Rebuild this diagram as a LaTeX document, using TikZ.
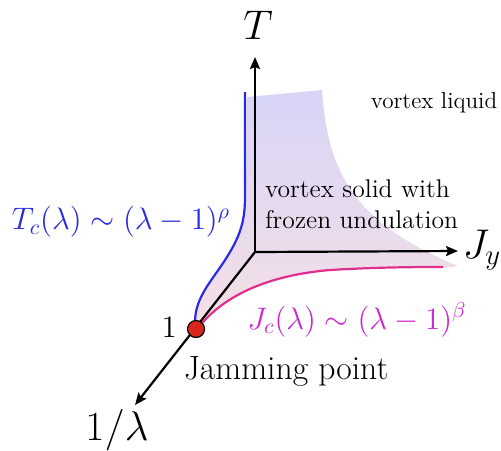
\documentclass[tikz,border=0pt]{standalone}
\usepackage{tikz}
\usetikzlibrary{arrows.meta, positioning}
\definecolor{tcblue}{HTML}{2A2AE0}
\definecolor{jcpink}{HTML}{E0308C}
\definecolor{jcmagenta}{HTML}{C82AD2}
\definecolor{solidtop}{HTML}{D8D4F7}
\definecolor{solidbot}{HTML}{F5E0E6}
\definecolor{jamred}{HTML}{D9261C}
\newcommand{\lawsize}[1]{\scalebox{1.08}{#1}}
\tikzset{
  x=0.5pt, y=-0.5pt,
  >={Stealth[length=6pt, width=5pt, inset=1pt]},
  axis/.style={->, line width=1.1pt, draw=black},
  tcline/.style={line width=1.1pt, draw=tcblue},
  jcline/.style={line width=1.1pt, draw=jcpink},
  axlbl/.style={font=\fontsize{20.7}{24}\selectfont},
  lbl/.style={font=\fontsize{12.8}{15.5}\selectfont, align=left},
  law/.style={font=\fontsize{14.4}{17}\selectfont},
}
\begin{document}
\begin{tikzpicture}
    \useasboundingbox (0,0) rectangle (501,450);
    % solid phase region
    \shade[top color=solidtop, bottom color=solidbot]
      (196,324) .. controls (195,295) and (215,278) .. (230,252)
      .. controls (243,230) and (246,215) .. (246,195) -- (247,97) -- (322,90)
      .. controls (328,180) and (360,225) .. (458,266) -- (443,268)
      .. controls (420,267) and (380,267) .. (330,270)
      .. controls (260,276) and (220,300) .. (198,328) -- cycle;
    \coordinate (O) at (255,252);
    \coordinate (Ttip) at (255,57);
    \coordinate (Jtip) at (458,251);
    \coordinate (Ltip) at (135,405);
    \node[axlbl] (T) at (258,25) {$T$};
    \node[axlbl] (Jy) at (482,250) {$J_y$};
    \node[axlbl] (lam) at (117,430) {$1/\lambda$};
    \draw[axis] (O) -- (Ttip);
    \draw[axis] (O) -- (Jtip);
    \draw[axis] (O) -- (Ltip);
    \draw[tcline] (195,322) .. controls (195,295) and (215,278) .. (230,252)
      .. controls (243,230) and (245,215) .. (245,195) -- (245,92);
    \draw[jcline] (198,328) .. controls (220,300) and (260,276) .. (330,270)
      .. controls (380,267) and (420,267) .. (443,267);
    \node[circle, draw=black, line width=0.6pt, fill=jamred, inner sep=0pt, minimum size=8.5pt] (jam) at (196,329) {};
    \node[law, anchor=east] (one) at (184,327) {\lawsize{$1$}};
    \node[anchor=west, font=\fontsize{16.8}{20}\selectfont] (jamlbl) at (177,371) {Jamming point};
    \node[law, text=tcblue] (tc) at (121,222) {\lawsize{$T_c(\lambda)\sim(\lambda-1)^{\rho}$}};
    \node[law, text=jcmagenta] (jc) at (357,320) {\lawsize{$J_c(\lambda)\sim(\lambda-1)^{\beta}$}};
    \node[lbl, anchor=west] (solid) at (258,204) {vortex solid with\\frozen undulation};
    \node[font=\fontsize{11.6}{14}\selectfont] (liquid) at (434,103) {vortex liquid};
\end{tikzpicture}
\end{document}
